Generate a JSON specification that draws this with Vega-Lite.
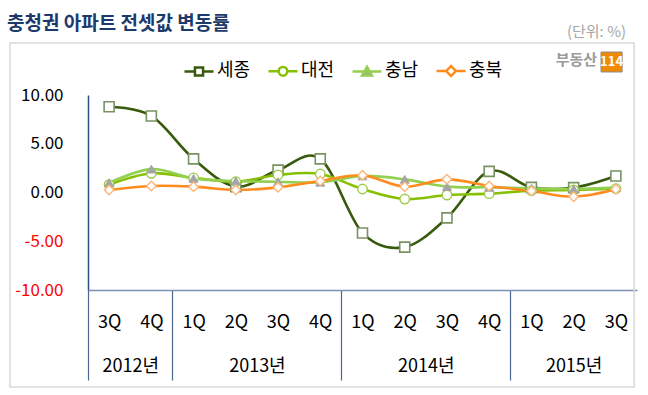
{
  "$schema": "https://vega.github.io/schema/vega-lite/v6.json",
  "width": 549,
  "height": 195,
  "autosize": {"type": "none"},
  "padding": {"left": 88, "top": 95, "right": 11, "bottom": 105},
  "background": "white",
  "config": {"view": {"stroke": null}, "font": "Noto Sans CJK KR", "axis": {"grid": false, "title": null}},
  "title": {"text": "충청권 아파트 전셋값 변동률", "anchor": "start", "frame": "group", "dx": -81, "dy": 19, "offset": 10, "fontSize": 19, "fontWeight": "bold", "color": "#1b3a6b", "font": "Noto Sans CJK KR"},
  "datasets": {
    "main": [
      {"t": 2012.5, "s": "세종", "v": 8.8}, {"t": 2012.75, "s": "세종", "v": 7.85}, {"t": 2013, "s": "세종", "v": 3.45}, {"t": 2013.25, "s": "세종", "v": 0.6}, {"t": 2013.5, "s": "세종", "v": 2.3}, {"t": 2013.75, "s": "세종", "v": 3.45}, {"t": 2014, "s": "세종", "v": -4.15}, {"t": 2014.25, "s": "세종", "v": -5.6}, {"t": 2014.5, "s": "세종", "v": -2.6}, {"t": 2014.75, "s": "세종", "v": 2.17}, {"t": 2015, "s": "세종", "v": 0.53}, {"t": 2015.25, "s": "세종", "v": 0.5}, {"t": 2015.5, "s": "세종", "v": 1.69},
      {"t": 2012.5, "s": "대전", "v": 0.8}, {"t": 2012.75, "s": "대전", "v": 1.97}, {"t": 2013, "s": "대전", "v": 1.5}, {"t": 2013.25, "s": "대전", "v": 1.1}, {"t": 2013.5, "s": "대전", "v": 1.8}, {"t": 2013.75, "s": "대전", "v": 1.9}, {"t": 2014, "s": "대전", "v": 0.36}, {"t": 2014.25, "s": "대전", "v": -0.67}, {"t": 2014.5, "s": "대전", "v": -0.26}, {"t": 2014.75, "s": "대전", "v": -0.12}, {"t": 2015, "s": "대전", "v": 0.19}, {"t": 2015.25, "s": "대전", "v": 0.26}, {"t": 2015.5, "s": "대전", "v": 0.4},
      {"t": 2012.5, "s": "충남", "v": 1.0}, {"t": 2012.75, "s": "충남", "v": 2.4}, {"t": 2013, "s": "충남", "v": 1.45}, {"t": 2013.25, "s": "충남", "v": 1.18}, {"t": 2013.5, "s": "충남", "v": 1.1}, {"t": 2013.75, "s": "충남", "v": 1.05}, {"t": 2014, "s": "충남", "v": 1.7}, {"t": 2014.25, "s": "충남", "v": 1.35}, {"t": 2014.5, "s": "충남", "v": 0.6}, {"t": 2014.75, "s": "충남", "v": 0.53}, {"t": 2015, "s": "충남", "v": 0.43}, {"t": 2015.25, "s": "충남", "v": 0.36}, {"t": 2015.5, "s": "충남", "v": 0.5},
      {"t": 2012.5, "s": "충북", "v": 0.26}, {"t": 2012.75, "s": "충북", "v": 0.67}, {"t": 2013, "s": "충북", "v": 0.6}, {"t": 2013.25, "s": "충북", "v": 0.26}, {"t": 2013.5, "s": "충북", "v": 0.53}, {"t": 2013.75, "s": "충북", "v": 1.18}, {"t": 2014, "s": "충북", "v": 1.76}, {"t": 2014.25, "s": "충북", "v": 0.6}, {"t": 2014.5, "s": "충북", "v": 1.35}, {"t": 2014.75, "s": "충북", "v": 0.67}, {"t": 2015, "s": "충북", "v": 0.15}, {"t": 2015.25, "s": "충북", "v": -0.43}, {"t": 2015.5, "s": "충북", "v": 0.33}
    ]
  },
  "layer": [
    {
      "data": {"values": [{"box": "frame"}]},
      "mark": {"type": "rect", "fill": null, "stroke": "#d9d9d9", "strokeWidth": 1.5, "clip": false},
      "encoding": {
        "x": {"datum": 2011.913, "type": "quantitative", "scale": {"domain": [2012.375, 2015.625], "nice": false, "zero": false}, "axis": null},
        "x2": {"datum": 2015.608},
        "y": {"datum": 15.33, "type": "quantitative", "scale": {"domain": [-10, 10], "nice": false, "zero": false}},
        "y2": {"datum": -19.95}
      }
    },
    {
      "data": {"name": "main"},
      "mark": {"type": "point", "opacity": 0},
      "encoding": {
        "x": {"field": "t", "type": "quantitative", "scale": {"domain": [2012.375, 2015.625], "nice": false, "zero": false},
          "axis": {"orient": "bottom", "values": [2012.375, 2012.875, 2013.875, 2014.875], "labels": false, "ticks": true, "tickSize": 90, "tickColor": "#4a6590", "tickWidth": 1.2, "domain": true, "domainColor": "#7b8fb0", "domainWidth": 1.5, "title": null, "grid": false}},
        "y": {"field": "v", "type": "quantitative", "scale": {"domain": [-10, 10], "nice": false, "zero": false}}
      }
    },
    {
      "data": {"name": "main"},
      "mark": {"type": "point", "opacity": 0},
      "encoding": {
        "x": {"field": "t", "type": "quantitative", "scale": {"domain": [2012.375, 2015.625], "nice": false, "zero": false},
          "axis": {"orient": "bottom", "values": [2012.625, 2013.375, 2014.375, 2015.25], "labelExpr": "floor(datum.value) + '년'", "ticks": false, "domain": false, "labelPadding": 76, "labelBaseline": "middle", "labelFontSize": 18, "labelColor": "#000000", "labelFont": "Noto Sans CJK KR", "title": null, "grid": false, "labelOverlap": false}},
        "y": {"field": "v", "type": "quantitative", "scale": {"domain": [-10, 10], "nice": false, "zero": false}}
      }
    },
    {
      "data": {"name": "main"},
      "mark": {"type": "line", "interpolate": "cardinal", "tension": 0, "strokeWidth": 2.6},
      "encoding": {
        "x": {"field": "t", "type": "quantitative", "scale": {"domain": [2012.375, 2015.625], "nice": false, "zero": false},
          "axis": {"orient": "bottom", "values": [2012.5, 2012.75, 2013, 2013.25, 2013.5, 2013.75, 2014, 2014.25, 2014.5, 2014.75, 2015, 2015.25, 2015.5], "labelExpr": "(round((datum.value - floor(datum.value)) * 4) + 1) + 'Q'", "ticks": false, "domain": false, "labelPadding": 32, "labelBaseline": "middle", "labelFontSize": 18, "labelColor": "#000000", "labelFont": "Noto Sans CJK KR", "title": null, "grid": false, "labelOverlap": false}},
        "y": {"field": "v", "type": "quantitative", "scale": {"domain": [-10, 10], "nice": false, "zero": false},
          "axis": {"values": [-10, -5, 0, 5, 10], "format": ".2f", "labelExpr": "replace(datum.label, '−', '-')", "ticks": false, "grid": false, "domain": true, "domainColor": "#2f4f80", "domainWidth": 1.5, "labelPadding": 25, "labelFontSize": 17, "labelFont": "Noto Sans CJK KR", "labelColor": {"condition": {"test": "datum.value < 0", "value": "#ff0000"}, "value": "#000000"}, "title": null}},
        "color": {"field": "s", "type": "nominal", "sort": ["세종", "대전", "충남", "충북"],
          "scale": {"domain": ["세종", "대전", "충남", "충북"], "range": ["#375a0c", "#86c000", "#92d050", "#ff8c1f"]},
          "legend": {"orient": "none", "legendX": 95, "legendY": -40, "direction": "horizontal", "title": null, "padding": 0, "symbolSize": 841, "symbolStrokeWidth": 2.5, "labelFontSize": 18, "labelFont": "Noto Sans CJK KR", "labelColor": "#000000", "labelOffset": 2, "columnPadding": 12,
            "encode": {"symbols": {"update": {
              "shape": {"signal": "datum.value === '세종' ? 'M-1,0H-0.28M0.28,0H1M-0.28,-0.28H0.28V0.28H-0.28Z' : datum.value === '대전' ? 'M-1,0H-0.3M0.3,0H1M-0.3,0A0.3,0.3,0,1,0,0.3,0A0.3,0.3,0,1,0,-0.3,0Z' : datum.value === '충남' ? 'M-1,0H1M-0.34,0.28L0,-0.32L0.34,0.28Z' : 'M-1,0H-0.34M0.34,0H1M-0.34,0L0,-0.34L0.34,0L0,0.34Z'"},
              "fill": {"signal": "datum.value === '충남' ? '#a5a5a5' : '#ffffff'"},
              "opacity": {"value": 1}
            }}}}
        }
      }
    },
    {
      "data": {"name": "main"},
      "transform": [{"filter": "datum.s === '세종'"}],
      "mark": {"type": "point", "shape": "square", "filled": true, "fill": "#ffffff", "stroke": "#7a9263", "size": 100, "strokeWidth": 1.6, "opacity": 1},
      "encoding": {
        "x": {"field": "t", "type": "quantitative", "scale": {"domain": [2012.375, 2015.625], "nice": false, "zero": false}, "axis": null},
        "y": {"field": "v", "type": "quantitative", "scale": {"domain": [-10, 10], "nice": false, "zero": false}}
      }
    },
    {
      "data": {"name": "main"},
      "transform": [{"filter": "datum.s === '대전'"}],
      "mark": {"type": "point", "shape": "circle", "filled": true, "fill": "#ffffff", "stroke": "#9ccc4a", "size": 90, "strokeWidth": 1.4, "opacity": 1},
      "encoding": {
        "x": {"field": "t", "type": "quantitative", "scale": {"domain": [2012.375, 2015.625], "nice": false, "zero": false}, "axis": null},
        "y": {"field": "v", "type": "quantitative", "scale": {"domain": [-10, 10], "nice": false, "zero": false}}
      }
    },
    {
      "data": {"name": "main"},
      "transform": [{"filter": "datum.s === '충남'"}],
      "mark": {"type": "point", "shape": "triangle-up", "filled": true, "fill": "#a5a5a5", "stroke": "#a5a5a5", "size": 80, "strokeWidth": 1, "opacity": 1},
      "encoding": {
        "x": {"field": "t", "type": "quantitative", "scale": {"domain": [2012.375, 2015.625], "nice": false, "zero": false}, "axis": null},
        "y": {"field": "v", "type": "quantitative", "scale": {"domain": [-10, 10], "nice": false, "zero": false}}
      }
    },
    {
      "data": {"name": "main"},
      "transform": [{"filter": "datum.s === '충북'"}],
      "mark": {"type": "point", "shape": "diamond", "filled": true, "fill": "#ffffff", "stroke": "#ffb47a", "size": 90, "strokeWidth": 1.4, "opacity": 1},
      "encoding": {
        "x": {"field": "t", "type": "quantitative", "scale": {"domain": [2012.375, 2015.625], "nice": false, "zero": false}, "axis": null},
        "y": {"field": "v", "type": "quantitative", "scale": {"domain": [-10, 10], "nice": false, "zero": false}}
      }
    },
    {
      "data": {"values": [{"label": "(단위: %)"}]},
      "mark": {"type": "text", "align": "right", "baseline": "middle", "fontSize": 15, "color": "#a6a6a6", "font": "Noto Sans CJK KR", "clip": false},
      "encoding": {
        "x": {"datum": 2015.56, "type": "quantitative", "scale": {"domain": [2012.375, 2015.625], "nice": false, "zero": false}, "axis": null},
        "y": {"datum": 16.46, "type": "quantitative", "scale": {"domain": [-10, 10], "nice": false, "zero": false}},
        "text": {"field": "label"}
      }
    },
    {
      "data": {"values": [{"label": "부동산"}]},
      "mark": {"type": "text", "align": "right", "baseline": "middle", "fontSize": 15, "fontWeight": "bold", "color": "#9a9a9a", "font": "Noto Sans CJK KR", "clip": false},
      "encoding": {
        "x": {"datum": 2015.389, "type": "quantitative", "scale": {"domain": [2012.375, 2015.625], "nice": false, "zero": false}, "axis": null},
        "y": {"datum": 13.59, "type": "quantitative", "scale": {"domain": [-10, 10], "nice": false, "zero": false}},
        "text": {"field": "label"}
      }
    },
    {
      "data": {"values": [{"label": "114"}]},
      "mark": {"type": "rect", "fill": "#f08a00", "stroke": "#8c8c8c", "strokeWidth": 1, "clip": false},
      "encoding": {
        "x": {"datum": 2015.412, "type": "quantitative", "scale": {"domain": [2012.375, 2015.625], "nice": false, "zero": false}, "axis": null},
        "x2": {"datum": 2015.537},
        "y": {"datum": 14.41, "type": "quantitative", "scale": {"domain": [-10, 10], "nice": false, "zero": false}},
        "y2": {"datum": 12.36}
      }
    },
    {
      "data": {"values": [{"label": "114"}]},
      "mark": {"type": "text", "align": "center", "baseline": "middle", "fontSize": 13, "fontWeight": "bold", "color": "#ffffff", "font": "Noto Sans CJK KR", "clip": false},
      "encoding": {
        "x": {"datum": 2015.4745, "type": "quantitative", "scale": {"domain": [2012.375, 2015.625], "nice": false, "zero": false}, "axis": null},
        "y": {"datum": 13.39, "type": "quantitative", "scale": {"domain": [-10, 10], "nice": false, "zero": false}},
        "text": {"field": "label"}
      }
    }
  ],
  "resolve": {"axis": {"x": "independent"}}
}
